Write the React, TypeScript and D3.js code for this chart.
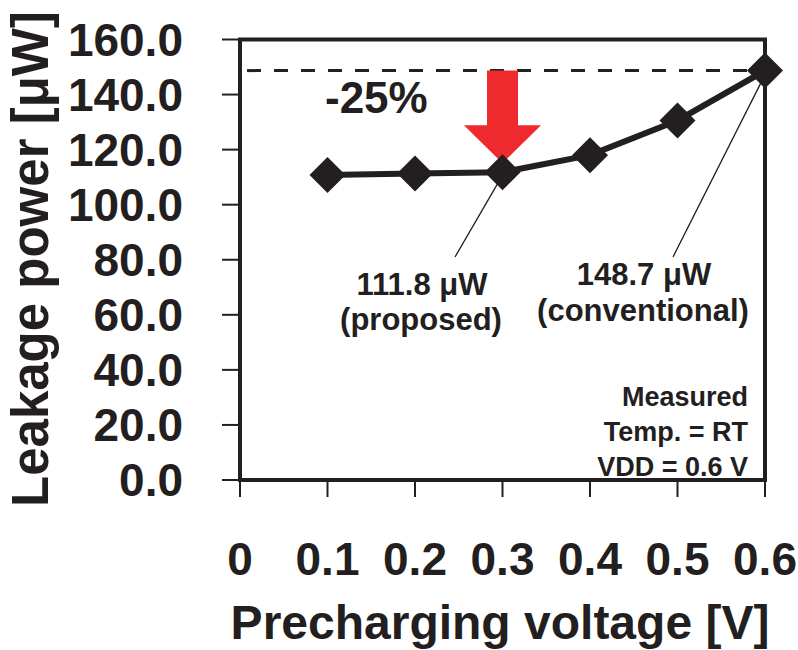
import React from "react";
import * as d3 from "d3";

// Measured leakage power vs. precharging voltage
const voltages = [0.1, 0.2, 0.3, 0.4, 0.5, 0.6];
const leakage = [110.8, 111.3, 111.8, 118.0, 130.6, 148.7];
const xTicks = [0, 0.1, 0.2, 0.3, 0.4, 0.5, 0.6];
const yTicks = [0, 20, 40, 60, 80, 100, 120, 140, 160];
const proposedValue = 111.8;
const conventionalValue = 148.7;
const conditions = ["Measured", "Temp. = RT", "VDD = 0.6 V"];

const W = 798;
const H = 650;
const left = 240;
const right = 765;
const top = 39.5;
const bottom = 480;

const INK = "#231f20";
const RED = "#ee2a2f";
const FONT = "'Liberation Sans', Arial, Helvetica, sans-serif";

export default function App() {
  const x = d3.scaleLinear().domain([0, 0.6]).range([left, right]);
  const y = d3.scaleLinear().domain([0, 160]).range([bottom, top]);

  const pts = voltages.map((v, i) => [x(v), y(leakage[i])] as [number, number]);
  const line = d3.line<[number, number]>()(pts) ?? "";

  const diamond = (cx: number, cy: number, r: number) =>
    `M${cx},${cy - r}L${cx + r},${cy}L${cx},${cy + r}L${cx - r},${cy}Z`;

  // reduction arrow from the conventional level down to the proposed point
  const ax = x(0.3);
  const aTop = y(conventionalValue);
  const aTip = y(proposedValue) - 9;
  const headTop = aTip - 38;
  const shaftHalf = 15.5;
  const headHalf = 38.5;
  const arrow = `M${ax - shaftHalf},${aTop}L${ax + shaftHalf},${aTop}L${ax + shaftHalf},${headTop}L${ax + headHalf},${headTop}L${ax},${aTip}L${ax - headHalf},${headTop}L${ax - shaftHalf},${headTop}Z`;

  const px = x(0.3), py = y(proposedValue);
  const cxv = x(0.6), cyv = y(conventionalValue);

  return (
    <svg
      width={W}
      height={H}
      viewBox={`0 0 ${W} ${H}`}
      style={{ position: "absolute", left: 0, top: 0, background: "#fff" }}
      fontFamily={FONT}
      fontWeight="bold"
      fill={INK}
    >
      {/* y ticks and labels */}
      {yTicks.map((t) => (
        <g key={`y${t}`}>
          <line x1={222} x2={left} y1={y(t)} y2={y(t)} stroke={INK} strokeWidth={2} />
          <text x={183} y={y(t) + 16} fontSize={46} textAnchor="end">
            {t.toFixed(1)}
          </text>
        </g>
      ))}

      {/* x ticks and labels */}
      {xTicks.map((t) => (
        <g key={`x${t}`}>
          <line x1={x(t)} x2={x(t)} y1={bottom} y2={497} stroke={INK} strokeWidth={2} />
          <text x={x(t)} y={575} fontSize={46} textAnchor="middle">
            {t === 0 ? "0" : t.toFixed(1)}
          </text>
        </g>
      ))}

      {/* dashed reference level */}
      <line
        x1={left + 7}
        x2={right - 10}
        y1={y(conventionalValue)}
        y2={y(conventionalValue)}
        stroke={INK}
        strokeWidth={3}
        strokeDasharray="14 13"
      />

      <text x={325} y={113} fontSize={44}>-25%</text>

      <path d={arrow} fill={RED} />

      {/* leader lines */}
      <line x1={px - 4} x2={455} y1={py + 10} y2={257} stroke={INK} strokeWidth={1.3} />
      <line x1={cxv - 3} x2={673} y1={cyv + 10} y2={257} stroke={INK} strokeWidth={1.3} />

      {/* data */}
      <path d={line} fill="none" stroke={INK} strokeWidth={6} />
      {pts.map(([cx, cy], i) => (
        <path key={`m${i}`} d={diamond(cx, cy, 18)} fill={INK} />
      ))}

      {/* plot frame */}
      <rect
        x={left}
        y={top}
        width={right - left}
        height={bottom - top}
        fill="none"
        stroke={INK}
        strokeWidth={4}
      />

      {/* value callouts */}
      <text x={422} y={295} fontSize={31} textAnchor="middle">
        {`${proposedValue.toFixed(1)} μW`}
      </text>
      <text x={421} y={330} fontSize={31} textAnchor="middle">(proposed)</text>
      <text x={644} y={285} fontSize={31} textAnchor="middle">
        {`${conventionalValue.toFixed(1)} μW`}
      </text>
      <text x={643} y={321} fontSize={31} textAnchor="middle">(conventional)</text>

      {conditions.map((c, i) => (
        <text key={c} x={748} y={406 + i * 35} fontSize={27} textAnchor="end">
          {c}
        </text>
      ))}

      {/* axis titles */}
      <text
        transform={`translate(48,259) rotate(-90)`}
        fontSize={51}
        textAnchor="middle"
      >
        Leakage power [μW]
      </text>
      <text x={500} y={639} fontSize={48} textAnchor="middle">
        Precharging voltage [V]
      </text>
    </svg>
  );
}
